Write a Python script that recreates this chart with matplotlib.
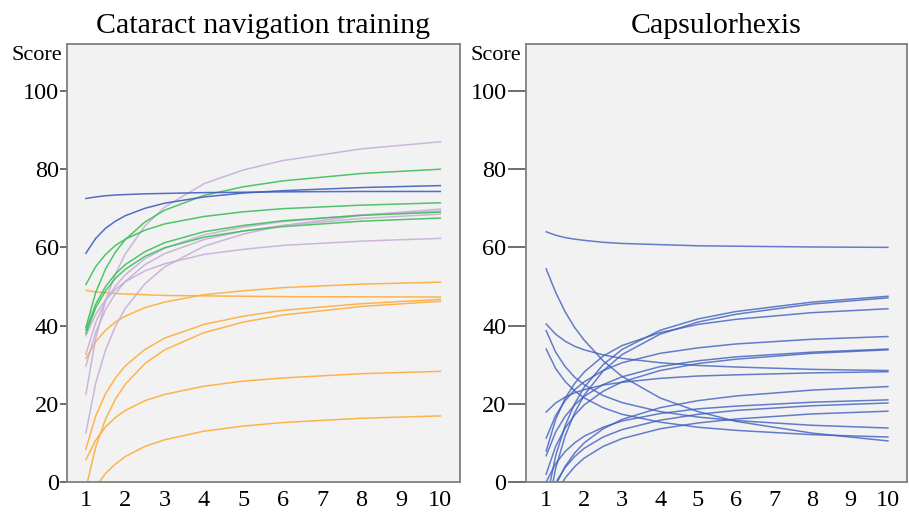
import matplotlib.pyplot as plt

plt.rcParams['font.family'] = ['Liberation Serif', 'DejaVu Serif']

attempts = [1, 1.25, 1.5, 1.75, 2, 2.5, 3, 4, 5, 6, 8, 10]

# --- Cataract navigation training ---
nav_blue = [
    [72.5, 72.9, 73.2, 73.4, 73.5, 73.7, 73.8, 74.0, 74.1, 74.2, 74.3, 74.3],
    [58.5, 62.3, 64.9, 66.7, 68.1, 70.0, 71.3, 72.9, 73.9, 74.5, 75.3, 75.8],
]
nav_green = [
    [39.5, 48.5, 54.5, 58.8, 62.0, 66.5, 69.5, 73.3, 75.5, 77.0, 78.9, 80.0],
    [50.5, 55.1, 58.2, 60.5, 62.1, 64.4, 66.0, 67.9, 69.1, 69.9, 70.8, 71.4],
    [38.8, 45.5, 50.0, 53.2, 55.6, 58.9, 61.2, 64.0, 65.6, 66.8, 68.2, 69.0],
    [38.0, 44.6, 48.9, 52.1, 54.4, 57.7, 59.9, 62.6, 64.2, 65.3, 66.7, 67.5],
]
nav_lilac = [
    [22.5, 36.8, 46.4, 53.2, 58.3, 65.5, 70.3, 76.3, 79.8, 82.2, 85.2, 87.0],
    [37.4, 42.9, 46.6, 49.3, 51.2, 54.0, 55.8, 58.2, 59.5, 60.5, 61.6, 62.3],
    [12.6, 25.3, 33.8, 39.8, 44.4, 50.7, 55.0, 60.3, 63.4, 65.6, 68.2, 69.8],
    [29.7, 38.3, 44.1, 48.2, 51.3, 55.6, 58.4, 62.0, 64.2, 65.6, 67.4, 68.5],
    [32.7, 40.8, 46.3, 50.1, 53.0, 57.1, 59.8, 63.2, 65.2, 66.6, 68.3, 69.3],
]
nav_orange = [
    [49.0, 48.6, 48.4, 48.2, 48.1, 47.9, 47.7, 47.6, 47.5, 47.4, 47.35, 47.3],
    [31.6, 35.9, 38.8, 40.9, 42.4, 44.6, 46.0, 47.9, 48.9, 49.7, 50.6, 51.1],
    [8.4, 16.9, 22.6, 26.6, 29.7, 33.9, 36.8, 40.3, 42.4, 43.9, 45.6, 46.7],
    [-1.6, 9.0, 16.1, 21.2, 25.0, 30.3, 33.8, 38.2, 40.9, 42.7, 44.9, 46.2],
    [5.7, 10.7, 14.1, 16.5, 18.3, 20.8, 22.4, 24.5, 25.8, 26.6, 27.7, 28.3],
    [-6.5, -1.3, 2.2, 4.6, 6.5, 9.1, 10.8, 13.0, 14.3, 15.2, 16.3, 16.9],
]

# --- Capsulorhexis ---
capsulo = [
    [64.0, 63.1, 62.5, 62.1, 61.8, 61.3, 61.0, 60.7, 60.4, 60.3, 60.1, 60.0],
    [54.5, 48.5, 43.5, 39.5, 36.3, 31.0, 27.0, 21.5, 18.0, 15.5, 12.5, 10.5],
    [40.4, 37.8, 36.0, 34.7, 33.8, 32.5, 31.6, 30.5, 29.8, 29.4, 28.8, 28.5],
    [38.7, 33.2, 29.5, 26.8, 24.9, 22.1, 20.3, 18.0, 16.6, 15.7, 14.5, 13.8],
    [34.0, 29.0, 25.7, 23.3, 21.5, 19.0, 17.3, 15.3, 14.0, 13.2, 12.1, 11.5],
    [17.9, 20.2, 21.7, 22.8, 23.6, 24.8, 25.5, 26.5, 27.1, 27.4, 27.9, 28.2],
    [11.2, 17.0, 20.8, 23.6, 25.6, 28.5, 30.5, 32.9, 34.3, 35.3, 36.5, 37.2],
    [7.9, 16.0, 21.4, 25.2, 28.1, 32.2, 34.9, 38.2, 40.3, 41.6, 43.3, 44.3],
    [6.7, 12.8, 16.8, 19.7, 21.9, 24.9, 26.9, 29.5, 31.0, 32.0, 33.2, 34.0],
    [-5.0, 6.7, 14.4, 20.0, 24.2, 30.0, 33.9, 38.8, 41.7, 43.6, 46.0, 47.5],
    [-9.0, 3.5, 11.8, 17.7, 22.2, 28.4, 32.6, 37.8, 40.9, 42.9, 45.5, 47.1],
    [2.0, 9.1, 13.8, 17.1, 19.7, 23.2, 25.6, 28.5, 30.3, 31.4, 32.9, 33.8],
    [-8.0, -0.8, 4.0, 7.4, 10.0, 13.6, 16.0, 19.0, 20.8, 22.0, 23.5, 24.4],
    [0.0, 4.7, 7.8, 10.0, 11.7, 14.0, 15.6, 17.5, 18.7, 19.4, 20.4, 21.0],
    [-6.0, -0.2, 3.7, 6.5, 8.6, 11.5, 13.4, 15.8, 17.3, 18.3, 19.5, 20.2],
    [-9.0, -3.0, 1.0, 3.9, 6.1, 9.1, 11.1, 13.6, 15.1, 16.1, 17.4, 18.1],
]

x_ticks = list(range(1, 11))
y_ticks = [0, 20, 40, 60, 80, 100]


def style_axes(ax, title, xlim, ytick_len):
    ax.set_facecolor('#f2f2f2')
    ax.set_xlim(*xlim)
    ax.set_ylim(0, 112)
    ax.set_xticks(x_ticks)
    ax.set_yticks(y_ticks)
    ax.tick_params(axis='x', length=0, pad=6, labelsize=17.5)
    ax.tick_params(axis='y', length=ytick_len, width=1.2, color='#555555',
                   pad=1, labelsize=17.5)
    for s in ax.spines.values():
        s.set_color('#808080')
        s.set_linewidth(1.3)
    ax.set_title(title, fontsize=21.5, pad=8)
    ax.text(-0.012, 0.995, 'Score', transform=ax.transAxes, ha='right',
            va='top', fontsize=16)


fig = plt.figure(figsize=(9.09, 5.14), dpi=100)
ax1 = fig.add_axes([0.0737, 0.0623, 0.4324, 0.852])
ax2 = fig.add_axes([0.5787, 0.0623, 0.4190, 0.852])

for y in nav_orange:
    ax1.plot(attempts, y, color='#ffad3b', lw=1.1, alpha=0.9)
for y in nav_lilac:
    ax1.plot(attempts, y, color='#c8aed8', lw=1.1, alpha=0.9)
for y in nav_green:
    ax1.plot(attempts, y, color='#3dbf5a', lw=1.1, alpha=0.9)
for y in nav_blue:
    ax1.plot(attempts, y, color='#3f5fbf', lw=1.1, alpha=0.9)

for y in capsulo:
    ax2.plot(attempts, y, color='#3f5fbf', lw=1.1, alpha=0.8)

style_axes(ax1, 'Cataract navigation training', (0.52, 10.5), 5)
style_axes(ax2, 'Capsulorhexis', (0.47, 10.5), 13)

fig.savefig('out.png', dpi=100)
